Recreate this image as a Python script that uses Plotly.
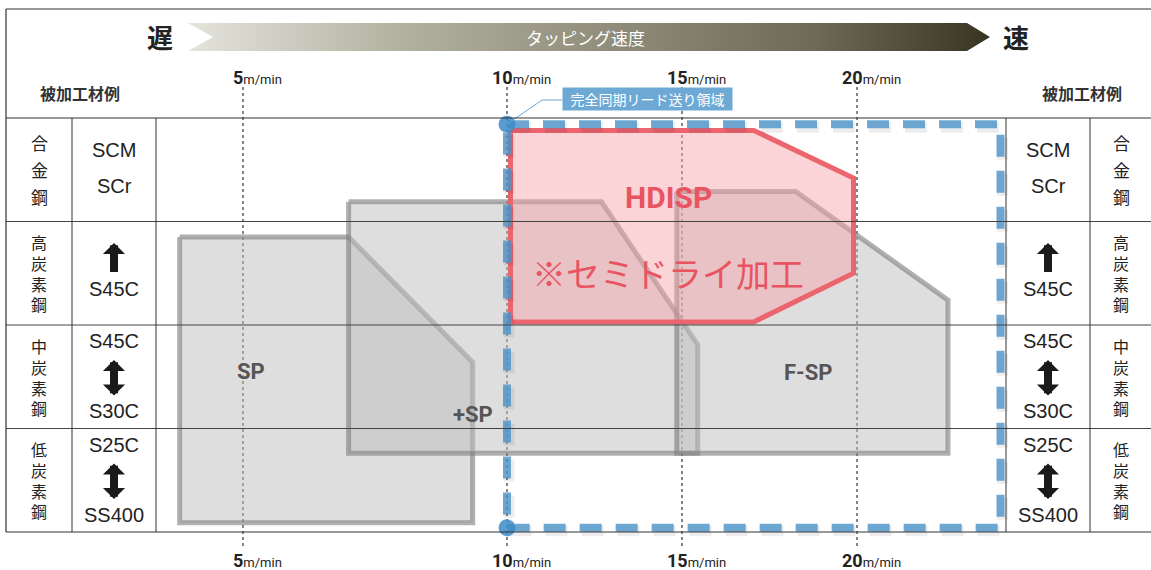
import numpy as np
import plotly.graph_objects as go

SPEED_TICKS = [5, 10, 15, 20]
SPEED_UNIT = "m/min"
AXIS_TITLE = "タッピング速度"
SLOW_LABEL = "遅"
FAST_LABEL = "速"
TABLE_TITLE = "被加工材例"
SYNC_LABEL = "完全同期リード送り領域"

MATERIAL_GROUPS = ["合金鋼", "高炭素鋼", "中炭素鋼", "低炭素鋼"]
MATERIAL_UPPER = ["SCM", "", "S45C", "S25C"]
MATERIAL_LOWER = ["SCr", "S45C", "S30C", "SS400"]
MATERIAL_ARROW = ["", "up", "both", "both"]

# 適用範囲: 速度 (m/min) と材料行 (0 = 合金鋼の上端, 4 = 低炭素鋼の下端)
SP_SPEED = [3.8, 7.0, 9.35, 9.35, 3.8, 3.8]
SP_ROW = [1.15, 1.15, 2.36, 3.91, 3.91, 1.15]
PLUS_SP_SPEED = [7.0, 12.7, 15.45, 15.45, 7.0, 7.0]
PLUS_SP_ROW = [0.81, 0.81, 2.19, 3.24, 3.24, 0.81]
FSP_SPEED = [14.85, 18.25, 22.6, 22.6, 14.85, 14.85]
FSP_ROW = [0.71, 0.71, 1.76, 3.24, 3.24, 0.71]
HDISP_SPEED = [10.1, 17.05, 19.9, 19.9, 17.05, 10.1, 10.1]
HDISP_ROW = [0.12, 0.12, 0.58, 1.5, 1.97, 1.97, 0.12]
SYNC_SPEED = [10, 24.1, 24.1, 10, 10]
SYNC_ROW = [0.06, 0.06, 3.96, 3.96, 0.06]

JP = "Noto Sans CJK JP"
LAT = "Liberation Sans, Arial, sans-serif"
COND = "Roboto, Liberation Sans, sans-serif"

# speed axis is not linear in the original (5 -> 10 is wider than 10 -> 15)
X_ANCHOR = [243, 507, 682, 857]


def sx(v):
    v = np.atleast_1d(np.asarray(v, float))
    out = np.interp(v, SPEED_TICKS, X_ANCHOR)
    lo = v < SPEED_TICKS[0]
    hi = v > SPEED_TICKS[-1]
    out[lo] = X_ANCHOR[0] + (v[lo] - SPEED_TICKS[0]) * 52.8
    out[hi] = X_ANCHOR[-1] + (v[hi] - SPEED_TICKS[-1]) * 35
    return out


ROW_TOP, ROW_H = 118, 103.5


def ry(r):
    return ROW_TOP + np.atleast_1d(np.asarray(r, float)) * ROW_H


fig = go.Figure()

# table grid
GRID = "#333333"
for y in [9, 118, 532]:
    fig.add_shape(type="line", x0=6, x1=1151, y0=y, y1=y, line=dict(color=GRID, width=1.2))
for r in [1, 2, 3]:
    y = float(ry(r)[0])
    fig.add_shape(type="line", x0=6, x1=1151, y0=y, y1=y, line=dict(color="#444", width=1))
fig.add_shape(type="line", x0=6, x1=6, y0=9, y1=532, line=dict(color=GRID, width=1.2))
for x in [72, 156, 1006, 1090]:
    fig.add_shape(type="line", x0=x, x1=x, y0=118, y1=532, line=dict(color=GRID, width=1))

# speed guide lines
for s in SPEED_TICKS:
    xs = float(sx(s)[0])
    fig.add_trace(go.Scatter(x=[xs, xs], y=[87, 547], mode="lines",
                             line=dict(color="#444", width=1.3, dash="dot"),
                             hoverinfo="skip", showlegend=False))
    lab = f"<b>{s}</b><span style='font-size:13px'>{SPEED_UNIT}</span>"
    for yl in [77, 560]:
        fig.add_annotation(x=xs + 14, y=yl, text=lab, showarrow=False,
                           font=dict(family=COND, size=18, color="#222"))

# gradient arrow
fig.add_trace(go.Scatter(
    x=[188, 967, 990, 967, 188, 213, 188], y=[23, 23, 37, 51, 51, 37, 23],
    mode="lines", fill="toself", line=dict(width=0),
    fillgradient=dict(type="horizontal", colorscale=[
        [0, "rgb(228,228,220)"], [0.27, "rgb(178,176,160)"],
        [0.78, "rgb(110,106,86)"], [1, "rgb(56,52,34)"]]),
    hoverinfo="skip", showlegend=False))
fig.add_annotation(x=585, y=37, text=AXIS_TITLE, showarrow=False,
                   font=dict(family=JP, size=17, color="white"))
fig.add_annotation(x=160, y=36, text=f"<b>{SLOW_LABEL}</b>", showarrow=False,
                   font=dict(family=JP, size=26, color="#222"))
fig.add_annotation(x=1016, y=36, text=f"<b>{FAST_LABEL}</b>", showarrow=False,
                   font=dict(family=JP, size=26, color="#222"))
for xt in [80, 1082]:
    fig.add_annotation(x=xt, y=93, text=f"<b>{TABLE_TITLE}</b>", showarrow=False,
                       font=dict(family=JP, size=16, color="#333"))

# tap ranges
GRAY_FILL = "rgba(190,190,192,0.5)"
GRAY_LINE = "rgba(125,125,125,0.6)"
for spd, row in [(SP_SPEED, SP_ROW), (PLUS_SP_SPEED, PLUS_SP_ROW), (FSP_SPEED, FSP_ROW)]:
    fig.add_trace(go.Scatter(x=sx(spd), y=ry(row), mode="lines", fill="toself",
                             fillcolor=GRAY_FILL, line=dict(color=GRAY_LINE, width=5),
                             hoverinfo="skip", showlegend=False))

fig.add_trace(go.Scatter(x=sx(HDISP_SPEED), y=ry(HDISP_ROW), mode="lines", fill="toself",
                         fillcolor="rgba(246,160,166,0.45)",
                         line=dict(color="rgb(236,100,110)", width=5),
                         hoverinfo="skip", showlegend=False))

# synchronous feed zone
sync_x, sync_y = sx(SYNC_SPEED), ry(SYNC_ROW)
fig.add_trace(go.Scatter(x=sync_x + 2, y=sync_y + 3, mode="lines",
                         line=dict(color="rgba(0,0,0,0.07)", width=11, dash="22px,14px"),
                         hoverinfo="skip", showlegend=False))
fig.add_trace(go.Scatter(x=sync_x, y=sync_y, mode="lines",
                         line=dict(color="rgba(74,146,200,0.8)", width=8, dash="22px,14px"),
                         hoverinfo="skip", showlegend=False))
fig.add_trace(go.Scatter(x=[sync_x[0], sync_x[3]], y=[sync_y[0], sync_y[3]], mode="markers",
                         marker=dict(color="rgba(60,140,200,0.85)", size=17),
                         hoverinfo="skip", showlegend=False))
fig.add_trace(go.Scatter(x=[sync_x[0], 542, 562], y=[sync_y[0], 100, 100], mode="lines",
                         line=dict(color="#6aa8d8", width=1),
                         hoverinfo="skip", showlegend=False))
fig.add_annotation(x=647.5, y=99, text=SYNC_LABEL, showarrow=False, width=165, height=18,
                   bgcolor="#6ea9d6", borderpad=2,
                   font=dict(family=JP, size=14, color="white"))

# range labels
for txt, s, r in [("SP", 5.15, 2.45), ("+SP", 9.35, 2.86), ("F-SP", 18.6, 2.46)]:
    fig.add_annotation(x=float(sx(s)[0]), y=float(ry(r)[0]), text=f"<b>{txt}</b>",
                       showarrow=False, font=dict(family=COND, size=22, color="#555"))
fig.add_annotation(x=float(sx(14.6)[0]), y=float(ry(0.77)[0]), text="<b>HDISP</b>",
                   showarrow=False, font=dict(family=COND, size=30, color="rgb(232,84,98)"))
fig.add_annotation(x=float(sx(14.6)[0]), y=float(ry(1.49)[0]), text="※セミドライ加工",
                   showarrow=False, font=dict(family=JP, size=34, color="rgb(232,84,98)"))

# material table (both sides)
ARROW_STYLE = dict(xref="x", yref="y", axref="x", ayref="y", text="", showarrow=True,
                   arrowhead=1, arrowsize=0.46, arrowwidth=8, arrowcolor="#1a1a1a")
for i, grp in enumerate(MATERIAL_GROUPS):
    n = len(grp)
    mid = float(ry(i + 0.5)[0])
    for xk in [39, 1121]:
        if n == 3:
            for j, ch in enumerate(grp):
                fig.add_annotation(x=xk, y=mid + (j - 1) * 27, text=ch, showarrow=False,
                                   font=dict(family=JP, size=17, color="#222"))
        else:
            fig.add_annotation(x=xk, y=mid, text="<br>".join(grp), showarrow=False,
                               font=dict(family=JP, size=16, color="#222"))
    for xm in [114, 1048]:
        top = float(ry(i)[0])
        if MATERIAL_ARROW[i] == "":
            fig.add_annotation(x=xm, y=top + 32, text=MATERIAL_UPPER[i], showarrow=False,
                               font=dict(family=LAT, size=20, color="#222"))
            fig.add_annotation(x=xm, y=top + 68, text=MATERIAL_LOWER[i], showarrow=False,
                               font=dict(family=LAT, size=20, color="#222"))
        elif MATERIAL_ARROW[i] == "up":
            fig.add_annotation(x=xm, y=top + 21.5, ax=xm, ay=top + 52, **ARROW_STYLE)
            fig.add_annotation(x=xm, y=top + 67, text=MATERIAL_LOWER[i], showarrow=False,
                               font=dict(family=LAT, size=20, color="#222"))
        else:
            fig.add_annotation(x=xm, y=top + 35, ax=xm, ay=top + 72,
                               arrowside="end+start", startarrowhead=1, startarrowsize=0.46,
                               **ARROW_STYLE)
            fig.add_annotation(x=xm, y=top + 16, text=MATERIAL_UPPER[i], showarrow=False,
                               font=dict(family=LAT, size=20, color="#222"))
            fig.add_annotation(x=xm, y=top + 86, text=MATERIAL_LOWER[i], showarrow=False,
                               font=dict(family=LAT, size=20, color="#222"))

fig.update_layout(
    width=1151,
    height=570,
    margin=dict(l=0, r=0, t=0, b=0),
    paper_bgcolor="white",
    plot_bgcolor="white",
    xaxis=dict(range=[0, 1151], visible=False, fixedrange=True),
    yaxis=dict(range=[570, 0], visible=False, fixedrange=True),
    showlegend=False,
)

fig.write_html("out.html", config={"displayModeBar": False},
               post_script="document.body.style.margin='0';")
